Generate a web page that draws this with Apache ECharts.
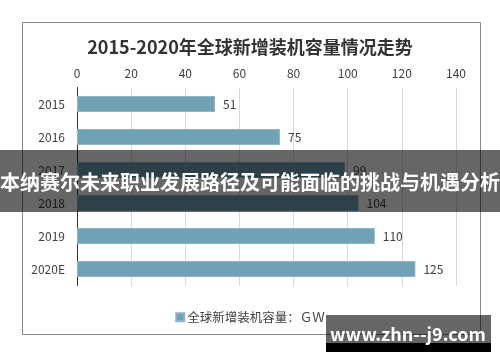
<!DOCTYPE html>
<html>
<head>
<meta charset="utf-8">
<script src="https://cdn.jsdelivr.net/npm/echarts@6/dist/echarts.min.js"></script>
<style>html,body{margin:0;padding:0;background:#fff;}#c{width:500px;height:362px;}</style>
</head>
<body>
<div id="c"></div>
<script>
const categories = ['2015', '2016', '2017', '2018', '2019', '2020E'];
const capacity = [51, 75, 99, 104, 110, 125];
const xTicks = [0, 20, 40, 60, 80, 100, 120, 140];
const titleText = '2015-2020年全球新增装机容量情况走势';
const seriesName = '全球新增装机容量：ＧＷ';
const bannerText = '本纳赛尔未来职业发展路径及可能面临的挑战与机遇分析';
const watermarkText = 'www.zhn--j9.com';

const FONT = '"Noto Sans CJK SC", "Noto Sans", sans-serif';
const chart = echarts.init(document.getElementById('c'), null, {renderer: 'canvas'});
chart.setOption({
  animation: false,
  backgroundColor: '#fff',
  title: {
    text: titleText, left: 'center', top: 33,
    textStyle: {fontFamily: FONT, fontSize: 18, fontWeight: 'bold', color: '#333'}
  },
  legend: {
    data: [seriesName], left: 'center', top: 306,
    itemWidth: 8, itemHeight: 8, itemGap: 4,
    icon: 'rect',
    textStyle: {fontFamily: FONT, fontSize: 12.5, color: '#404040', padding: [0,0,0,-2]}
  },
  grid: {left: 77, right: 44, top: 87.5, height: 198, containLabel: false},
  xAxis: {
    type: 'value', position: 'top', min: xTicks[0], max: xTicks[xTicks.length-1], interval: 20,
    axisLine: {show: false}, axisTick: {show: false},
    axisLabel: {margin: 8, fontFamily: FONT, fontSize: 12, color: '#404040'},
    splitLine: {show: true, lineStyle: {color: '#d9d9d9', width: 1}}
  },
  yAxis: {
    type: 'category', data: categories, inverse: true,
    axisLine: {show: true, lineStyle: {color: '#333', width: 1}},
    axisTick: {show: false},
    axisLabel: {margin: 12, fontFamily: FONT, fontSize: 12, color: '#404040'}
  },
  series: [{
    name: seriesName, type: 'bar', data: capacity,
    barWidth: 16,
    itemStyle: {color: '#71a1b5', borderColor: '#8fb6c6', borderWidth: 1},
    label: {show: true, position: 'right', distance: 8, fontFamily: FONT, fontSize: 12, color: '#404040'}
  }],
  graphic: [
    {type: 'rect', z: 10, silent: true, shape: {x: 22.5, y: 22.5, width: 458, height: 312},
     style: {fill: 'none', stroke: '#898989', lineWidth: 1}},
    {type: 'rect', z: 100, shape: {x: 0, y: 150, width: 500, height: 62},
     style: {fill: 'rgba(0,0,0,0.6)'}},
    {type: 'text', z: 101, x: 250, y: 182,
     style: {text: bannerText, fill: '#fff', font: 'bold 20px ' + FONT, textAlign: 'center', textVerticalAlign: 'middle'}},
    {type: 'rect', z: 100, shape: {x: 326, y: 315, width: 165, height: 28},
     style: {fill: 'rgba(0,0,0,0.6)'}},
    {type: 'rect', z: 100, shape: {x: 326, y: 343, width: 165, height: 9},
     style: {fill: '#000'}},
    {type: 'text', z: 101, x: 408, y: 334,
     style: {text: watermarkText, fill: '#fff', font: 'bold 18px ' + FONT, textAlign: 'center', textVerticalAlign: 'middle'}}
  ]
});
</script>
</body>
</html>
